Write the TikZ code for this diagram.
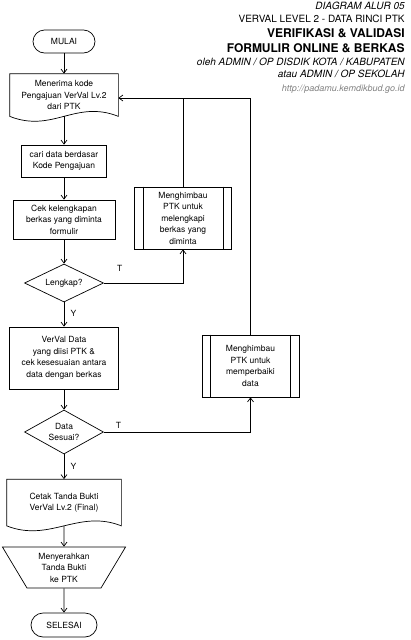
\documentclass[tikz,border=0pt]{standalone}
\usepackage{fontspec}
\setmainfont{TeX Gyre Heros}
\usetikzlibrary{shapes.geometric,shapes.misc,arrows.meta}

% fundo ondulado do documento
\newcommand{\gelombang}[1]{\draw (#1.north west) -- (#1.north east) -- (#1.south east)
	.. controls +(-43,-17) and +(43,17) .. (#1.south west) -- cycle;}
% as duas linhas internas do processo
\newcommand{\garisdalam}[1]{\draw ([xshift=9pt]#1.north west) -- ([xshift=9pt]#1.south west);
	\draw ([xshift=-9pt]#1.north east) -- ([xshift=-9pt]#1.south east);}

\begin{document}
\begin{tikzpicture}[x=1pt, y=-1pt, line width=0.7pt,
	font=\fontsize{8.5}{11.5}\selectfont,
	terminal/.style={draw, rounded rectangle, minimum height=23pt, inner sep=0pt},
	proses/.style={draw, rectangle, align=center, inner sep=0pt},
	dokumen/.style={rectangle, align=center, inner sep=0pt},
	keputusan/.style={draw, diamond, aspect=2, align=center, inner sep=0pt},
	himbau/.style={draw, rectangle, align=center, inner sep=0pt, minimum width=97pt, minimum height=62pt},
	keluaran/.style={draw, trapezium, shape border rotate=180, trapezium angle=60,
		trapezium stretches=true, align=center, inner sep=0pt},
	arr/.style={-{Straight Barb[length=4pt,width=6pt]}},
	judul/.style={anchor=east, inner sep=0pt}]

	\useasboundingbox (0,0) rectangle (410,640);

	% O titulo...
		\node[judul, font=\fontsize{10}{12}\selectfont\itshape] (judul1) at (405,6) {DIAGRAM ALUR 05};
		\node[judul, font=\fontsize{10}{12}\selectfont] (judul2) at (405,19) {VERVAL LEVEL 2 - DATA RINCI PTK};
		\node[judul, font=\fontsize{12}{14}\selectfont\bfseries] (judul3) at (405,33) {VERIFIKASI \& VALIDASI};
		\node[judul, font=\fontsize{12}{14}\selectfont\bfseries] (judul4) at (405,48) {FORMULIR ONLINE \& BERKAS};
		\node[judul, font=\fontsize{10}{12}\selectfont\itshape] (judul5) at (405,62) {oleh ADMIN / OP DISDIK KOTA / KABUPATEN};
		\node[judul, font=\fontsize{10}{12}\selectfont\itshape] (judul6) at (405,74) {atau ADMIN / OP SEKOLAH};
		\node[judul, font=\fontsize{9}{11}\selectfont\itshape, gray] (judul7) at (405,89) {http://padamu.kemdikbud.go.id};

	% Os blocos do fluxo
		\node[terminal, minimum width=62pt] (mulai) at (64,41.5) {MULAI};
		\node[dokumen, minimum width=108pt, minimum height=42pt] (terima) at (64,95) {Menerima kode\\Pengajuan VerVal Lv.2\\dari PTK};
		\gelombang{terima}
		\node[proses, minimum width=85pt, minimum height=32pt] (cari) at (64,161) {cari data berdasar\\Kode Pengajuan};
		\node[proses, minimum width=102pt, minimum height=39pt] (cek) at (64,219.5) {Cek kelengkapan\\berkas yang diminta\\formulir};
		\node[keputusan, minimum width=79pt, minimum height=38pt] (lengkap) at (64,283) {Lengkap?};
		\node[proses, minimum width=109pt, minimum height=62pt] (verval) at (64,358) {VerVal Data\\yang diisi PTK \&\\cek kesesuaian antara\\data dengan berkas};
		\node[keputusan, minimum width=79pt, minimum height=44pt] (sesuai) at (64,432) {Data\\Sesuai?};
		\node[dokumen, minimum width=114pt, minimum height=46pt] (cetak) at (64,502.5) {Cetak Tanda Bukti\\VerVal Lv.2 (Final)};
		\gelombang{cetak}
		\node[keluaran, minimum width=124pt, minimum height=41pt] (serah) at (64,567.5) {Menyerahkan\\Tanda Bukti\\ke PTK};
		\node[terminal, minimum width=66pt, minimum height=24pt] (selesai) at (64,625) {SELESAI};

		\node[himbau] (himbau1) at (183,218) {Menghimbau\\PTK untuk\\melengkapi\\berkas yang\\diminta};
		\garisdalam{himbau1}
		\node[himbau] (himbau2) at (250.5,366) {Menghimbau\\PTK untuk\\memperbaiki\\data};
		\garisdalam{himbau2}

	% As setas
		\draw[arr] (mulai.south) -- (terima.north);
		\draw[arr] (terima.south) -- (cari.north);
		\draw[arr] (cari.south) -- (cek.north);
		\draw[arr] (cek.south) -- (lengkap.north);
		\draw[arr] (lengkap.south) -- node[pos=.45, right=3pt]{Y} (verval.north);
		\draw[arr] (verval.south) -- (sesuai.north);
		\draw[arr] (sesuai.south) -- node[pos=.5, right=3pt]{Y} (cetak.north);
		\draw[arr] (cetak.south) -- (serah.north);
		\draw[arr] (serah.south) -- (selesai.north);

		\draw[arr] (lengkap.east) -| node[pos=.1, above=8pt]{T} (himbau1.south);
		\draw[arr] (sesuai.east) -| node[pos=.05, above]{T} (himbau2.south);

		\coordinate (balik) at ([yshift=-3pt]terima.east);
		\draw[arr] (himbau2.north) |- (balik);
		\draw (himbau1.north) -- (himbau1.north |- balik);
\end{tikzpicture}
\end{document}
